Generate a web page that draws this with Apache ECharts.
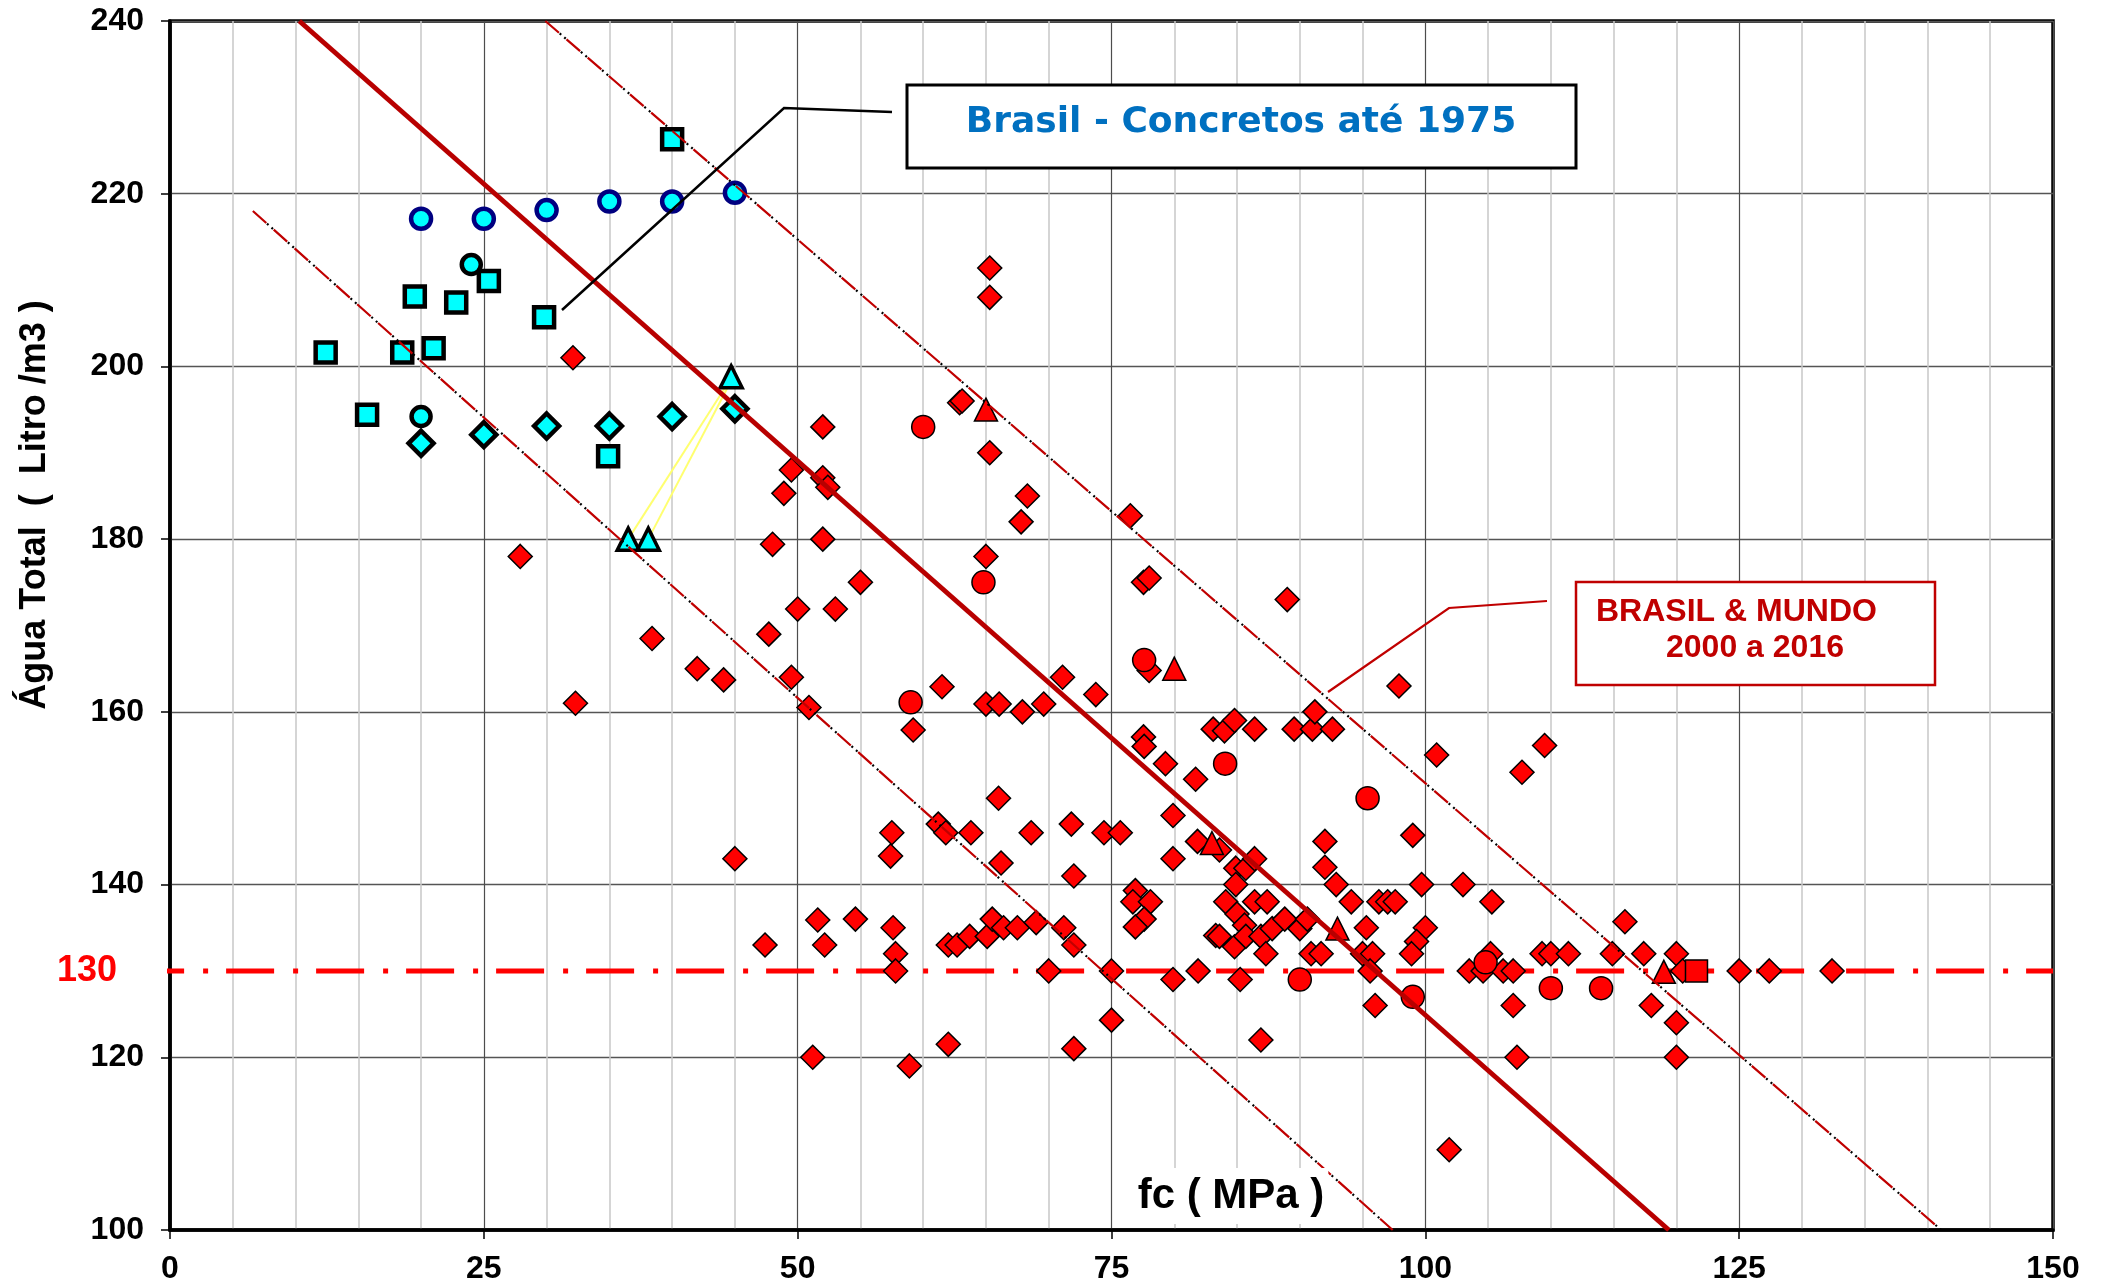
<!DOCTYPE html>
<html>
<head>
<meta charset="utf-8">
<script src="https://cdn.jsdelivr.net/npm/echarts@6/dist/echarts.min.js"></script>
<style>
html,body{margin:0;padding:0;background:#fff;}
#chart{width:2103px;height:1288px;}
</style>
</head>
<body>
<div id="chart"></div>
<script>
// ---------- data ----------
const xRange = [0, 150];
const yRange = [100, 240];

// Brasil - concretos até 1975 (cyan)
const cyanSquares = [[12.4,201.6],[15.7,194.4],[18.5,201.6],[19.5,208.1],[21.0,202.1],[22.8,207.4],[25.4,209.9],[29.8,205.7],[34.9,189.6],[40.0,226.3]];
const cyanCirclesBlue = [[20.0,217.1],[25.0,217.1],[30.0,218.1],[35.0,219.1],[40.0,219.1],[45.0,220.1]];
const cyanCirclesBlack = [[24.0,211.8],[20.0,194.2]];
const cyanDiamonds = [[20.0,191.1],[25.0,192.1],[30.0,193.1],[35.0,193.1],[40.0,194.2],[45.0,195.1]];
const cyanTriangles = [[44.7,198.8],[36.5,180.0],[38.1,180.0]];
const yellowLink1 = [[36.5,180.0],[44.2,197.5]];
const yellowLink2 = [[38.1,180.0],[44.4,197.5]];

// Brasil & Mundo 2000 a 2016 (red)
const redDiamonds = [
 [32.1,201],[27.9,178],[32.3,161],[38.4,168.5],[42.0,165],[44.1,163.7],[45.0,143],[47.4,133],[47.7,169],[48.0,179.4],
 [48.9,185.3],[49.5,188],[49.5,164],[50.0,171.9],[50.9,160.5],[51.2,120],[51.6,135.9],[52.0,193],[52.0,187.1],[52.4,186],
 [52.0,180],[52.15,133],[53.0,171.9],[54.6,136],[55.0,175],[62.9,195.8],[63.1,196.0],[65.3,211.4],[65.3,208],[65.3,190],
 [65.0,178],[68.3,185],[67.8,182],[76.5,182.7],[77.55,175],[78.0,175.5],[89.0,173],[78.0,164.8],[71.1,164],[73.75,162],
 [97.9,163],[61.5,162.9],[59.2,157.9],[65.0,160.9],[66.05,160.9],[67.9,160],[69.6,160.9],[77.55,157.1],[77.6,156],[79.3,154],
 [81.7,152.2],[83.1,158],[84.0,157.8],[84.8,159],[86.4,158],[89.55,158],[91.0,158],[91.2,160],[92.6,158],[66.0,150],
 [57.5,146],[57.4,143.3],[61.2,147],[61.8,146],[63.8,146],[68.6,146],[71.8,147],[74.4,146],[75.7,146],[79.9,148],
 [79.9,143],[81.85,145],[83.6,144],[84.9,141.9],[85.7,141.9],[86.4,143],[84.9,140],[92.0,145],[92.0,142],[92.9,140],
 [94.1,138],[66.2,142.5],[72.0,141],[57.6,135],[57.8,132],[57.8,130],[62.0,133],[62.7,133],[63.7,134],[65.1,134],
 [65.5,136],[66.4,135],[67.5,135],[69.0,135.6],[71.2,135],[72.0,133],[70.0,130],[75.0,130],[76.9,139.3],[76.7,138],
 [78.1,138],[77.6,136],[76.9,135.1],[79.9,129],[81.9,130],[85.25,129],[75.0,124.3],[62.0,121.5],[58.9,119],[72.0,121],
 [86.9,122],[84.1,138],[85.0,136.6],[86.4,138],[87.4,138],[83.3,134.1],[83.6,134],[84.8,132.8],[85.6,135.3],[85.7,134],
 [86.9,134],[87.3,132],[87.8,134.9],[88.8,136],[90.0,134.9],[90.6,136],[90.9,132],[91.7,132],[100.9,155],[107.7,153],
 [109.5,156.1],[99.0,145.7],[99.7,140],[103.0,140],[96.3,138],[97.0,138],[97.6,138],[105.3,138],[95.3,135],[100.0,135],
 [99.3,133.4],[98.9,132],[95.0,132],[95.8,132],[95.6,130],[96.0,126],[103.5,130],[104.6,130],[105.2,132],[106.2,130],
 [107.0,130],[107.0,126],[107.3,120],[109.3,132],[110.0,132],[111.4,132],[115.9,135.7],[114.9,132],[117.4,132],[120.0,132],
 [120.5,130],[118.0,126],[120.0,124],[120.0,120],[125.0,130],[127.4,130],[132.4,130],[101.9,109.3]
];
const redCircles = [[60.0,193],[64.8,175],[77.6,166],[59.0,161.1],[84.05,154],[95.4,150],[90.0,129],[99.0,127],[110.0,128],[114.0,128],[104.8,131]];
const redTriangles = [[65.0,195],[80.0,165],[83.0,144.8],[93.0,134.9],[119.0,129.9]];
const redSquares = [[121.6,130]];

// trend lines
const trendMain = [[10.3,240],[119.4,100]];
const trendUpper = [[29.9,240],[141.1,100]];
const trendLower = [[6.6,218],[97.4,100]];

// reference line
const refValue = 130;
const refFrom = -2.7, refTo = 150;

// texts
const yTitle = 'Água Total  (  Litro /m3 )';
const xTitle = 'fc ( MPa )';
const box1Text = 'Brasil - Concretos até 1975';
const box2Line1 = 'BRASIL & MUNDO';
const box2Line2 = '2000 a 2016';

// ---------- chart ----------
const FONT = '"Liberation Sans", Arial, sans-serif';
const chart = echarts.init(document.getElementById('chart'), null, {renderer:'canvas'});

function scatter(data, symbol, size, color, border, bw, z) {
  return {type:'scatter', data, symbol, symbolSize:size, z:z||3, silent:true,
    itemStyle:{color, borderColor:border, borderWidth:bw, opacity:1}};
}
function trend(data, color, width, type, offset, z) {
  return {type:'line', data, symbol:'none', silent:true, z:z||5, clip:true,
    lineStyle:{color, width, type, dashOffset:offset||0, cap:'butt'}};
}

const option = {
  animation:false,
  backgroundColor:'#fff',
  grid:{left:170, right:50, top:21, bottom:58, containLabel:false, outerBoundsMode:'none',
        show:true, borderColor:'#000', borderWidth:3.5, backgroundColor:'#fff'},
  xAxis:{type:'value', min:xRange[0], max:xRange[1], interval:25,
    axisLine:{show:true, onZero:false, lineStyle:{color:'#000', width:3.5}},
    axisTick:{show:true, length:9, lineStyle:{color:'#000', width:1.5}},
    axisLabel:{fontSize:32, fontWeight:'bold', color:'#000', fontFamily:FONT, margin:23},
    splitLine:{show:true, lineStyle:{color:'#4d4d4d', width:1.2}},
    minorTick:{show:false, splitNumber:5},
    minorSplitLine:{show:true, lineStyle:{color:'#c8c8c8', width:1.5}}},
  yAxis:{type:'value', min:yRange[0], max:yRange[1], interval:20,
    axisLine:{show:true, onZero:false, lineStyle:{color:'#000', width:3.5}},
    axisTick:{show:true, length:9, lineStyle:{color:'#000', width:1.5}},
    axisLabel:{fontSize:32, fontWeight:'bold', color:'#000', fontFamily:FONT, margin:26},
    splitLine:{show:true, lineStyle:{color:'#555', width:1.3}}},
  series:[
    // reference line 130
    {type:'line', z:2, silent:true, clip:false,
      data:[{value:[refFrom, refValue], label:{show:true, position:'left', distance:19, formatter:String(refValue),
              color:'#ff0000', fontSize:36, fontWeight:'bold', fontFamily:FONT}},
            [refTo, refValue]],
      symbol:'circle', symbolSize:0.1, showSymbol:true, itemStyle:{color:'rgba(0,0,0,0)'},
      lineStyle:{color:'#ff0000', width:5, type:[48,19,5,18], cap:'butt'}},
    {type:'line', data:yellowLink1, symbol:'none', silent:true, z:2, lineStyle:{color:'#ffff70', width:2}},
    {type:'line', data:yellowLink2, symbol:'none', silent:true, z:2, lineStyle:{color:'#ffff70', width:2}},
    scatter(cyanSquares, 'rect', 20, '#00ffff', '#000', 4.5),
    scatter(cyanCirclesBlue, 'circle', 20, '#00ffff', '#000080', 4.5),
    scatter(cyanCirclesBlack, 'circle', 19, '#00ffff', '#000', 4.5),
    scatter(cyanDiamonds, 'diamond', 25, '#00ffff', '#000', 4.5),
    scatter(cyanTriangles, 'triangle', 22, '#00ffff', '#000', 3.5),
    scatter(redDiamonds, 'diamond', 24, '#ff0000', '#000', 1.5),
    scatter(redCircles, 'circle', 23, '#ff0000', '#000', 1.5),
    scatter(redTriangles, 'triangle', 23, '#ff0000', '#000', 1.5),
    scatter(redSquares, 'rect', 22, '#ff0000', '#000', 1.5),
    trend(trendMain, '#b80000', 5, 'solid'),
    trend(trendUpper, '#c00000', 2.2, [18,10]),
    trend(trendUpper, '#000000', 2.2, [2,4,2,20], 9, 6),
    trend(trendLower, '#c00000', 2.2, [18,10]),
    trend(trendLower, '#000000', 2.2, [2,4,2,20], 9, 6)
  ],
  graphic:[
    {type:'text', z:100, x:35, y:505, rotation:Math.PI/2,
      style:{text:yTitle, font:'bold 36px '+FONT, fill:'#000', align:'center', verticalAlign:'middle'}},
    {type:'text', z:100, x:1231, y:1196,
      style:{text:xTitle, font:'bold 42px '+FONT, fill:'#000', align:'center', verticalAlign:'middle',
             backgroundColor:'#fff', padding:[7,4]}},
    {type:'polyline', z:100, shape:{points:[[562,310],[784,108],[892,112]]},
      style:{stroke:'#000', lineWidth:2.5, fill:null}},
    {type:'rect', z:100, shape:{x:907, y:85, width:669, height:83},
      style:{fill:'#fff', stroke:'#000', lineWidth:3}},
    {type:'text', z:101, x:1241, y:123,
      style:{text:box1Text, font:'bold 36px "DejaVu Sans", sans-serif', fill:'#0070c0', align:'center', verticalAlign:'middle'}},
    {type:'polyline', z:100, shape:{points:[[1328,692],[1449,608],[1547,601]]},
      style:{stroke:'#c00000', lineWidth:2.2, fill:null}},
    {type:'rect', z:100, shape:{x:1576, y:582, width:359, height:103},
      style:{fill:'#fff', stroke:'#c00000', lineWidth:2.5}},
    {type:'text', z:101, x:1596, y:612,
      style:{text:box2Line1, font:'bold 32px '+FONT, fill:'#c00000', align:'left', verticalAlign:'middle'}},
    {type:'text', z:101, x:1755, y:648,
      style:{text:box2Line2, font:'bold 32px '+FONT, fill:'#c00000', align:'center', verticalAlign:'middle'}}
  ]
};
chart.setOption(option);
</script>
</body>
</html>
